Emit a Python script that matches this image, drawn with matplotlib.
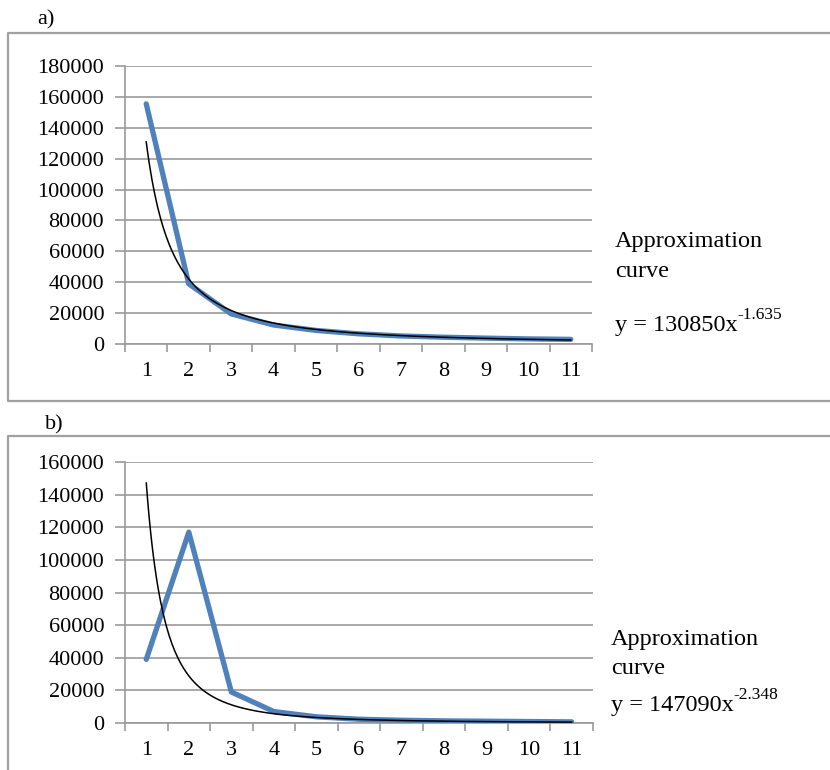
import matplotlib.pyplot as plt
import numpy as np
from matplotlib.lines import Line2D

plt.rcParams['font.family'] = ['Liberation Serif', 'DejaVu Serif']

cats = np.arange(1, 12)
vals_a = [155500, 39000, 19500, 12300, 8800, 6600, 5200, 4400, 3800, 3300, 3000]
vals_b = [39000, 117000, 19000, 7000, 3800, 2300, 1700, 1300, 1100, 900, 700]
fit_a = (130850, -1.635)
fit_b = (147090, -2.348)

W, H = 830, 770
fig = plt.figure(figsize=(W/100, H/100), dpi=100)

def px(x, y):
    return x/W, 1 - y/H

grid_c = "#9a9a9a"
blue = "#4F81BD"


def panel(rect_px, vals, fit, ymax, step):
    l, t, r, b = rect_px
    ax = fig.add_axes([l/W, 1 - b/H, (r-l)/W, (b-t)/H])
    ax.plot(cats, vals, color=blue, lw=3.8, solid_capstyle="round", zorder=3)
    xx = np.linspace(1, 11, 300)
    ax.plot(xx, fit[0]*xx**fit[1], color="black", lw=1.1, zorder=4)
    ax.set_xlim(0.5, 11.5)
    ax.set_ylim(0, ymax)
    ax.set_yticks(np.arange(0, ymax + 1, step))
    ax.set_xticks(cats)
    ax.set_xticks(np.arange(0.5, 12, 1), minor=True)
    ax.tick_params(axis="x", which="major", length=0, pad=13, labelsize=16)
    ax.tick_params(axis="x", which="minor", length=6, color=grid_c, width=1.2)
    ax.tick_params(axis="y", length=7, color=grid_c, width=1.2, pad=8, labelsize=16)
    ax.grid(axis="y", color=grid_c, lw=1.2)
    ax.set_axisbelow(True)
    for s in ["top", "right"]:
        ax.spines[s].set_visible(False)
    for s in ["left", "bottom"]:
        ax.spines[s].set_color(grid_c)
        ax.spines[s].set_linewidth(1.2)
    return ax


panel((125, 66, 592, 344), vals_a, fit_a, 180000, 20000)
panel((125, 462, 593, 723), vals_b, fit_b, 160000, 20000)

# panel frames (open on the right)
frame_c = "#a0a0a0"
for (top, bot) in [(33, 401), (436, 772)]:
    xs = [W + 5, 8, 8, W + 5]
    ys = [top, top, bot, bot]
    fig.add_artist(Line2D([x/W for x in xs], [1 - y/H for y in ys],
                          color=frame_c, lw=1.6, transform=fig.transFigure))

fig.text(*px(37, 20), "a)", fontsize=16, va="center", ha="left")
fig.text(*px(45, 425), "b)", fontsize=16, va="center", ha="left")


def equation(x, y, base, sup):
    t = fig.text(*px(x, y), base, fontsize=17.5, va="center")
    fig.text(0, 0, "")
    plt.annotate(sup, xy=(1, 0.62), xycoords=t, fontsize=12.5,
                 va="bottom", ha="left", annotation_clip=False)


fig.text(*px(615, 241), "Approximation", fontsize=17.5, va="center")
fig.text(*px(615, 271), "curve", fontsize=17.5, va="center")
equation(615, 326, "y = 130850x", "-1.635")

fig.text(*px(611, 639), "Approximation", fontsize=17.5, va="center")
fig.text(*px(611, 668), "curve", fontsize=17.5, va="center")
equation(611, 706, "y = 147090x", "-2.348")

fig.savefig("out.png", dpi=100)
